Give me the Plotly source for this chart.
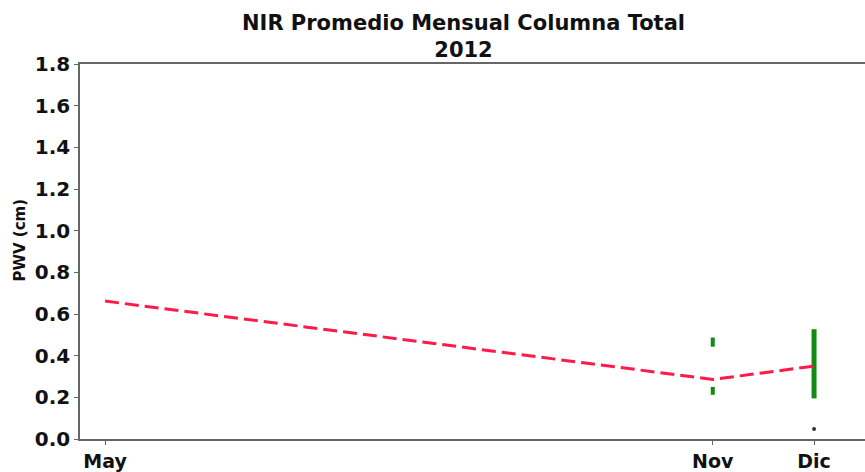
import plotly.graph_objects as go

# Monthly means of precipitable water vapour (cm)
months = [5, 11, 12]
month_labels = ["May", "Nov", "Dic"]
mean_pwv = [0.662, 0.286, 0.350]

# Spread of the monthly samples (green segments)
nov_upper = [0.443, 0.487]
nov_lower = [0.212, 0.250]
dic_range = [0.195, 0.527]

# Isolated outlying samples
outlier_month = [12]
outlier_pwv = [0.048]

y_ticks = [0.0, 0.2, 0.4, 0.6, 0.8, 1.0, 1.2, 1.4, 1.6, 1.8]

fig = go.Figure()

green = "#138a13"
fig.add_trace(go.Scatter(
    x=[11, 11, None, 11, 11],
    y=[nov_upper[0], nov_upper[1], None, nov_lower[0], nov_lower[1]],
    mode="lines", line=dict(color=green, width=4), showlegend=False,
))
fig.add_trace(go.Scatter(
    x=[12, 12], y=dic_range,
    mode="lines", line=dict(color=green, width=5), showlegend=False,
))
fig.add_trace(go.Scatter(
    x=months, y=mean_pwv, mode="lines",
    line=dict(color="#ff1a4a", width=3, dash="14px,6px"), showlegend=False,
))
fig.add_trace(go.Scatter(
    x=outlier_month, y=outlier_pwv, mode="markers",
    marker=dict(color="#333333", size=4), showlegend=False,
))

fig.add_annotation(
    text="<b>NIR Promedio Mensual Columna Total</b><br><b>2012</b>",
    xref="paper", yref="paper", x=0.489, y=1.0, yshift=0,
    xanchor="center", yanchor="bottom", showarrow=False,
    font=dict(family="DejaVu Sans", size=21, color="#111111"),
)

fig.add_annotation(
    text="<b>PWV (cm)</b>", textangle=-90,
    xref="paper", yref="paper", x=-0.076, y=0.53,
    xanchor="center", yanchor="middle", showarrow=False,
    font=dict(family="DejaVu Sans", size=15, color="#111111"),
)

fig.update_layout(
    width=865, height=472,
    margin=dict(l=80, r=0, t=64, b=29),
    paper_bgcolor="white", plot_bgcolor="white",
    font=dict(family="DejaVu Sans", color="#111111"),
    xaxis=dict(
        range=[4.753, 12.503], tickvals=months, ticktext=month_labels,
        showgrid=False, zeroline=False, showline=True, mirror=True,
        linecolor="#666666", linewidth=1.5,
        ticks="outside", ticklen=4, tickcolor="#666666",
        tickfont=dict(family="DejaVu Sans", size=19, weight="bold"),
    ),
    yaxis=dict(
        range=[0, 1.8], tickvals=y_ticks,
        ticktext=[f"{v:.1f}" for v in y_ticks],
        showgrid=False, zeroline=False, showline=True,
        linecolor="#666666", linewidth=1.5,
        ticks="outside", ticklen=4, tickcolor="#666666",
        tickfont=dict(family="DejaVu Sans", size=20, weight="bold"),
    ),
)

fig.write_html("out.html")
